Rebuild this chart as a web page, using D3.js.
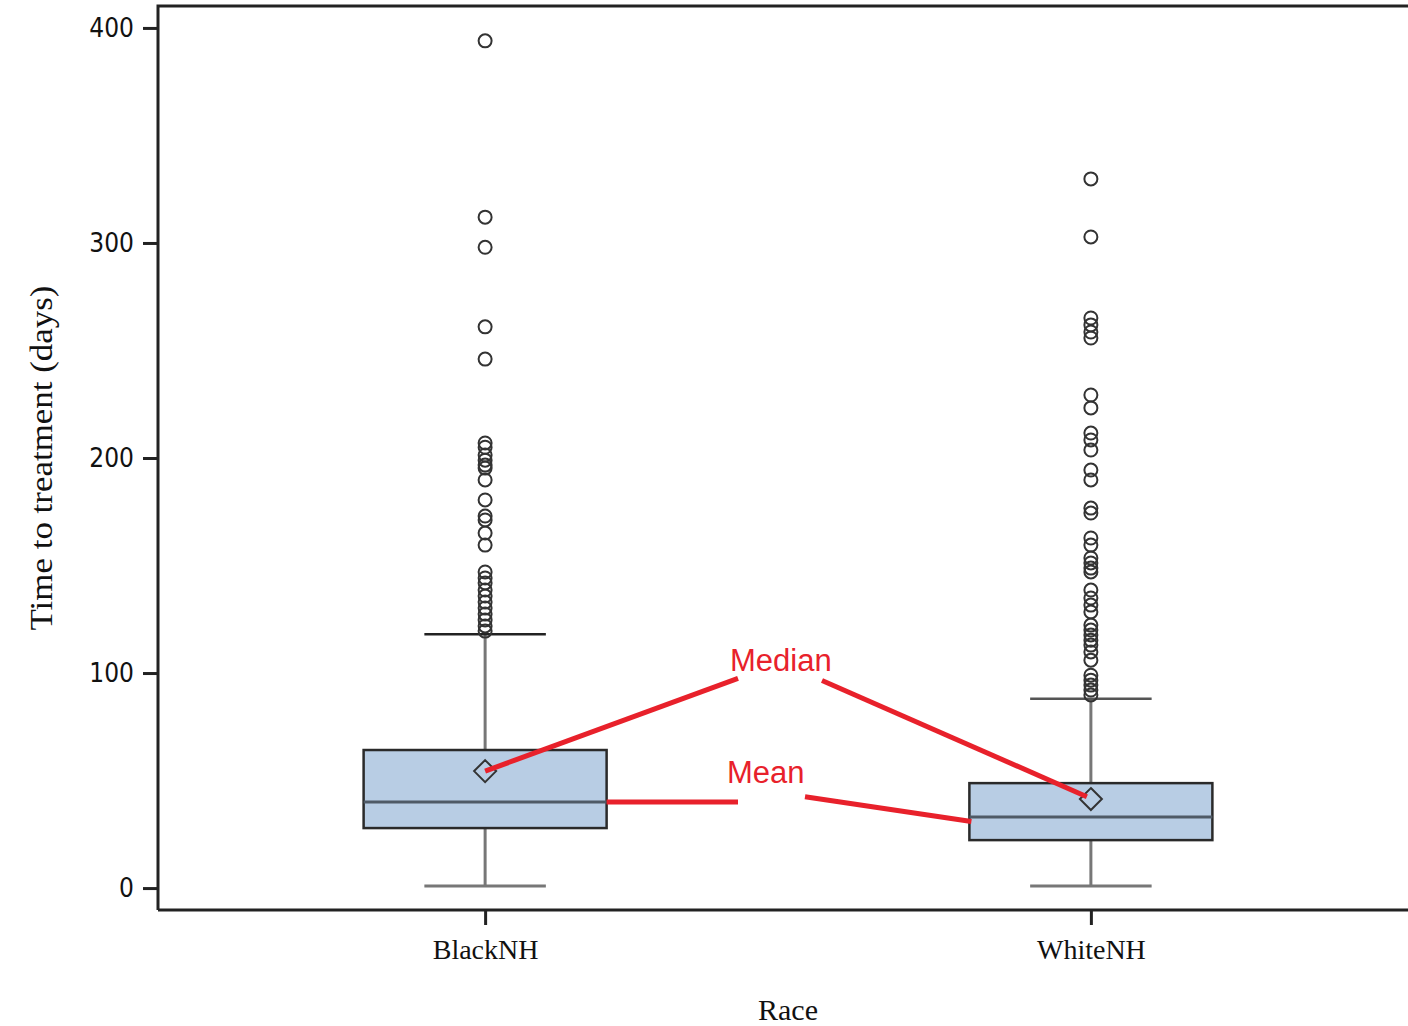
<!DOCTYPE html>
<html>
<head>
<meta charset="utf-8">
<script src="https://cdn.jsdelivr.net/npm/d3@7"></script>
<style>
  body { margin: 0; background: #fff; }
  svg { display: block; }
</style>
</head>
<body>
<svg id="chart" width="1408" height="1026"></svg>
<script>
const categories = ["BlackNH", "WhiteNH"];
// box stats: q1, median, q3, whisker low/high, mean
const q1 = [27.9, 22.3];
const median = [40, 33];
const q3 = [64.2, 48.8];
const whiskLow = [1, 1];
const whiskHigh = [118, 88];
const means = [54.4, 41.4];
const outliersBlack = [394, 312, 298, 261, 246, 207, 205, 201.4, 199, 196.7, 195.3, 189.8, 180.5,
  173, 171.2, 165.1, 159.5, 147, 144.2, 141.9, 138.6, 135.8, 133, 130.2, 127.4, 124.7, 121.9, 119.5];
const outliersWhite = [329.8, 302.8, 265.1, 261.9, 258.6, 255.8, 229.3, 223.3, 211.6, 208.4, 203.7,
  194.4, 189.8, 176.7, 174.4, 162.8, 159.5, 153.5, 151.2, 148.8, 147, 138.6, 134.9, 131.6, 128.4,
  122.3, 120, 117.7, 115.3, 113, 109.8, 106, 99, 96.7, 94.4, 92.1, 89.8];
const yTicks = [0, 100, 200, 300, 400];

const svg = d3.select("#chart");
const mLeft = 158, mTop = 6, mRight = 1418, mBottom = 910;

const x = d3.scalePoint().domain(categories).range([mLeft, mRight]).padding(0.54);
const y = d3.scaleLinear().domain([-10.2, 410.2]).range([mBottom, mTop]);
const boxW = 243;

const outliers = [outliersBlack, outliersWhite];

// frame
svg.append("path")
  .attr("d", `M${mLeft},${mBottom}V${mTop}H${mRight + 10}M${mLeft},${mBottom}H${mRight + 10}`)
  .attr("fill", "none").attr("stroke", "#222").attr("stroke-width", 3);

// y axis
const yAxis = svg.append("g")
  .attr("transform", `translate(${mLeft},0)`)
  .call(d3.axisLeft(y).tickValues(yTicks).tickSize(15).tickPadding(9));
yAxis.select(".domain").remove();
yAxis.selectAll(".tick line").attr("stroke", "#222").attr("stroke-width", 3);
yAxis.selectAll(".tick text")
  .attr("fill", "#111")
  .style("font-family", "'Liberation Sans Narrow', 'DejaVu Sans Condensed', sans-serif")
  .style("font-size", "26px");

// x axis
const xAxis = svg.append("g")
  .attr("transform", `translate(0,${mBottom})`)
  .call(d3.axisBottom(x).tickSize(15).tickPadding(14));
xAxis.select(".domain").remove();
xAxis.selectAll(".tick line").attr("stroke", "#222").attr("stroke-width", 3);
xAxis.selectAll(".tick text")
  .attr("fill", "#111")
  .style("font-family", "'Liberation Serif', serif")
  .style("font-size", "28px");

// axis titles
svg.append("text")
  .attr("transform", `translate(52,${(mTop + mBottom) / 2}) rotate(-90)`)
  .attr("text-anchor", "middle")
  .attr("textLength", 345).attr("lengthAdjust", "spacingAndGlyphs")
  .style("font-family", "'Liberation Serif', serif")
  .style("font-size", "31px").attr("fill", "#111")
  .text("Time to treatment (days)");
svg.append("text")
  .attr("x", 788).attr("y", 1020)
  .attr("text-anchor", "middle")
  .style("font-family", "'Liberation Serif', serif")
  .style("font-size", "30px").attr("fill", "#111")
  .text("Race");

// boxes
categories.forEach((c, i) => {
  const cx = x(c);
  const g = svg.append("g");
  g.append("line")
    .attr("x1", cx).attr("x2", cx).attr("y1", y(whiskLow[i])).attr("y2", y(q1[i]))
    .attr("stroke", "#777").attr("stroke-width", 3);
  g.append("line")
    .attr("x1", cx).attr("x2", cx).attr("y1", y(q3[i])).attr("y2", y(whiskHigh[i]))
    .attr("stroke", "#777").attr("stroke-width", 3);
  g.append("line")
    .attr("x1", cx - boxW / 4).attr("x2", cx + boxW / 4)
    .attr("y1", y(whiskLow[i])).attr("y2", y(whiskLow[i]))
    .attr("stroke", "#777").attr("stroke-width", 3);
  g.append("line")
    .attr("x1", cx - boxW / 4).attr("x2", cx + boxW / 4)
    .attr("y1", y(whiskHigh[i])).attr("y2", y(whiskHigh[i]))
    .attr("stroke", i === 0 ? "#222" : "#555").attr("stroke-width", 2.5);
  g.append("rect")
    .attr("x", cx - boxW / 2).attr("width", boxW)
    .attr("y", y(q3[i])).attr("height", y(q1[i]) - y(q3[i]))
    .attr("fill", "#b8cde4").attr("stroke", "#2a2a2a").attr("stroke-width", 2.5);
  g.append("line")
    .attr("x1", cx - boxW / 2).attr("x2", cx + boxW / 2)
    .attr("y1", y(median[i])).attr("y2", y(median[i]))
    .attr("stroke", "#4f5a66").attr("stroke-width", 3);
  const my = y(means[i]);
  g.append("path")
    .attr("d", `M${cx},${my - 11}L${cx + 11},${my}L${cx},${my + 11}L${cx - 11},${my}Z`)
    .attr("fill", "none").attr("stroke", "#333").attr("stroke-width", 2);
  g.selectAll("circle")
    .data(outliers[i])
    .join("circle")
    .attr("cx", cx).attr("cy", d => y(d)).attr("r", 6.5)
    .attr("fill", "none").attr("stroke", "#333").attr("stroke-width", 2);
});

// red annotations (as in original: "Median" points to diamonds, "Mean" to median lines)
const red = "#e8212b";
const bx = x("BlackNH"), wx = x("WhiteNH");
const ann = svg.append("g").attr("stroke", red).attr("stroke-width", 5).attr("fill", "none");
ann.append("line").attr("x1", bx).attr("y1", y(means[0])).attr("x2", 738).attr("y2", y(97.5));
ann.append("line").attr("x1", 822).attr("y1", y(96.5)).attr("x2", wx - 4).attr("y2", y(42.5));
ann.append("line").attr("x1", bx + boxW / 2).attr("y1", y(median[0])).attr("x2", 738).attr("y2", y(median[0]));
ann.append("line").attr("x1", 805).attr("y1", y(42.5)).attr("x2", wx - boxW / 2 + 2).attr("y2", y(31));

svg.append("text")
  .attr("x", 730).attr("y", 671)
  .style("font-family", "'Liberation Sans', Arial, sans-serif")
  .style("font-size", "31px").attr("fill", red)
  .text("Median");
svg.append("text")
  .attr("x", 727).attr("y", 783)
  .style("font-family", "'Liberation Sans', Arial, sans-serif")
  .style("font-size", "31px").attr("fill", red)
  .text("Mean");
</script>
</body>
</html>
